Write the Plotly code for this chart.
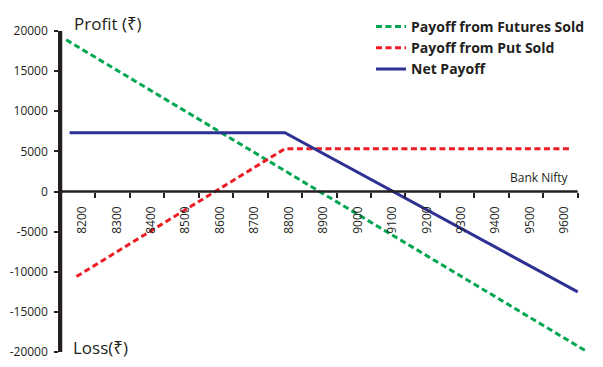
import plotly.graph_objects as go

# Data
futures_x = [8165, 9675]
futures_y = [18900, -19900]
put_x = [8195, 8800, 9635]
put_y = [-10600, 5330, 5330]
net_x = [8175, 8800, 9650]
net_y = [7330, 7330, -12500]

x_labels = [8200, 8300, 8400, 8500, 8600, 8700, 8800, 8900, 9000, 9100, 9200, 9300, 9400, 9500, 9600]
x_ticks_between = [8250 + 100 * i for i in range(15)]
y_ticks = [20000, 15000, 10000, 5000, 0, -5000, -10000, -15000, -20000]

FONT = "Open Sans, Noto Sans, DejaVu Sans, sans-serif"
TXT = "#231F20"
XR = [8150, 9680]

fig = go.Figure()
fig.add_trace(go.Scatter(x=futures_x, y=futures_y, mode="lines", name="Payoff from Futures Sold",
                         line=dict(color="#00A651", width=3, dash="6px,3.5px")))
fig.add_trace(go.Scatter(x=put_x, y=put_y, mode="lines", name="Payoff from Put Sold",
                         line=dict(color="#ED1C24", width=3, dash="6px,3.5px")))
fig.add_trace(go.Scatter(x=net_x, y=net_y, mode="lines", name="Net Payoff",
                         line=dict(color="#2E3192", width=3)))
# dummy trace to activate label axis
fig.add_trace(go.Scatter(x=[x_labels[0]], y=[0], xaxis="x2", mode="markers",
                         marker=dict(opacity=0), showlegend=False, hoverinfo="skip"))

fig.update_layout(
    width=603, height=367,
    margin=dict(l=61, r=15, t=31, b=15, autoexpand=False),
    paper_bgcolor="white", plot_bgcolor="white",
    font=dict(family=FONT, color=TXT, size=12),
    showlegend=True,
    legend=dict(x=(371 - 61) / 527, y=(352 - 11) / 321, xanchor="left", yanchor="top",
                font=dict(family=FONT, size=14, color=TXT, weight="bold"),
                bgcolor="rgba(0,0,0,0)", itemwidth=30, tracegroupgap=0),
    xaxis=dict(range=XR, anchor="free", position=0.5, showgrid=False, zeroline=False,
               showline=False, tickvals=x_ticks_between, ticktext=[""] * 15,
               ticks="outside", ticklen=5, tickwidth=2, tickcolor=TXT),
    xaxis2=dict(range=XR, overlaying="x", anchor="free", position=0.5, showgrid=False,
                zeroline=False, showline=False, tickvals=x_labels,
                ticktext=[str(v) for v in x_labels], tickangle=-90,
                ticks="outside", ticklen=9, tickcolor="rgba(0,0,0,0)",
                ticklabelshift=4, tickfont=dict(size=12, color=TXT, family=FONT)),
    yaxis=dict(range=[-20000, 20000], showgrid=False, zeroline=False,
               showline=True, linecolor=TXT, linewidth=2.5,
               tickvals=y_ticks, ticktext=[str(v) for v in y_ticks],
               ticks="outside", ticklen=4, tickwidth=2, tickcolor=TXT,
               ticklabelstandoff=4, tickfont=dict(size=12, color=TXT, family=FONT)),
)

# x-axis line at y = 0
fig.add_shape(type="line", x0=8150, x1=9650, y0=0, y1=0, xref="x", yref="y",
              line=dict(color=TXT, width=2.5))
# y-axis line
fig.add_shape(type="line", x0=8150, x1=8150, y0=-20200, y1=20200, xref="x", yref="y",
              line=dict(color=TXT, width=2.5))

fig.add_annotation(text="Profit (₹)", xref="paper", yref="paper", x=(72 - 61) / 527,
                   y=(352 - 23) / 321, xanchor="left", yanchor="middle", showarrow=False,
                   font=dict(size=17, color=TXT, family=FONT))
fig.add_annotation(text="Loss(₹)", xref="paper", yref="paper", x=(71 - 61) / 527,
                   y=(352 - 347) / 321, xanchor="left", yanchor="middle", showarrow=False,
                   font=dict(size=17, color=TXT, family=FONT))
fig.add_annotation(text="Bank Nifty", xref="paper", yref="paper", x=(571 - 61) / 527,
                   y=(352 - 177) / 321, xanchor="right", yanchor="middle", showarrow=False,
                   font=dict(size=12, color=TXT, family=FONT))

fig.write_html("out.html", config={"displayModeBar": False},
               post_script="document.body.style.margin='0';document.body.style.overflow='hidden';")
